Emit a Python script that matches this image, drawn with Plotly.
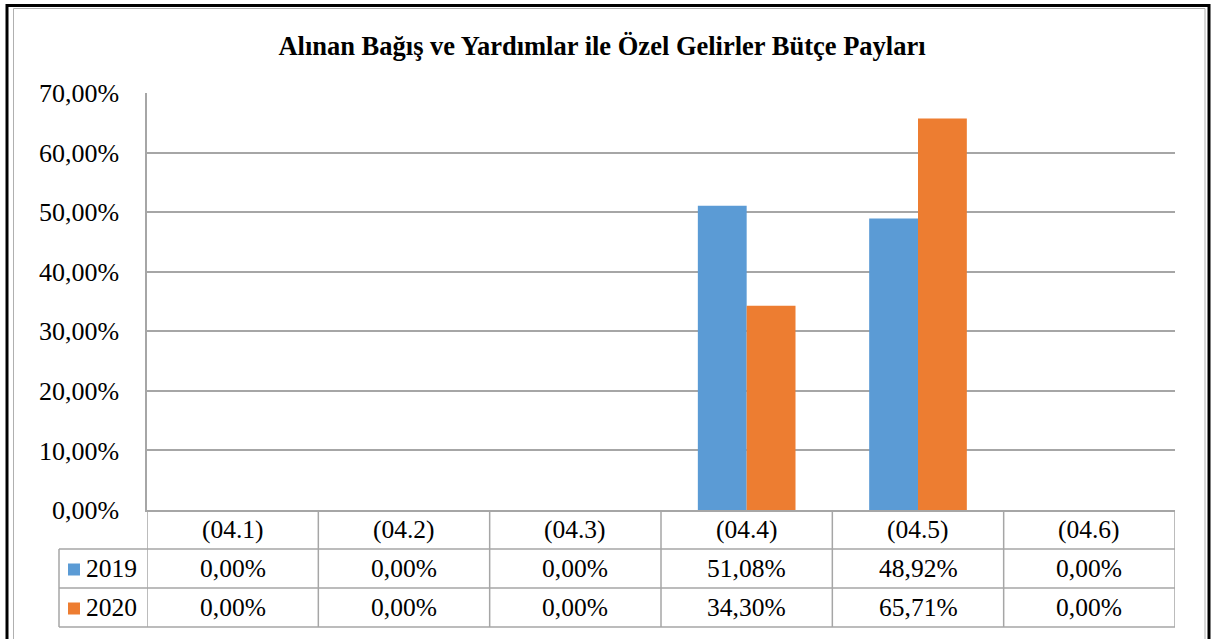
import plotly.graph_objects as go

# data
categories = ["(04.1)", "(04.2)", "(04.3)", "(04.4)", "(04.5)", "(04.6)"]
years = ["2019", "2020"]
share_2019 = [0.00, 0.00, 0.00, 51.08, 48.92, 0.00]
share_2020 = [0.00, 0.00, 0.00, 34.30, 65.71, 0.00]
colors = ["#5B9BD5", "#ED7D31"]
y_ticks = [0, 10, 20, 30, 40, 50, 60, 70]

W, H = 1211, 639
GRID = "#A6A6A6"
FONT = "Liberation Serif, Times New Roman, serif"


def px(y):
    # pixel row -> paper y
    return 1 - y / H


def pxx(x):
    return x / W


def pct(v):
    return f"{v:.2f}".replace(".", ",") + "%"


fig = go.Figure()
for name, vals, c in zip(years, [share_2019, share_2020], colors):
    fig.add_trace(go.Bar(x=categories, y=vals, name=name, marker_color=c,
                         marker_line_width=0, showlegend=False, hoverinfo="skip"))

plot_top, plot_bot = 93, 510
row_h = 39
shapes = []
annotations = []
txt = dict(family=FONT, size=25.5, color="black")

# data table below the plot
n = len(categories)
for i in range(n + 1):
    shapes.append(dict(type="line", xref="x", yref="paper", x0=i - 0.5, x1=i - 0.5,
                       y0=px(plot_bot), y1=px(plot_bot + 3 * row_h),
                       line=dict(color=GRID, width=1.5)))
for r in range(1, 4):
    yy = px(plot_bot + r * row_h)
    shapes.append(dict(type="line", xref="paper", yref="paper",
                       x0=pxx(59), x1=pxx(147), y0=yy, y1=yy,
                       line=dict(color=GRID, width=1.5)))
    shapes.append(dict(type="line", xref="x", yref="paper", x0=-0.5, x1=n - 0.5,
                       y0=yy, y1=yy, line=dict(color=GRID, width=1.5)))
shapes.append(dict(type="line", xref="paper", yref="paper", x0=pxx(59), x1=pxx(59),
                   y0=px(plot_bot + row_h), y1=px(plot_bot + 3 * row_h),
                   line=dict(color=GRID, width=1.5)))

for i, cat in enumerate(categories):
    annotations.append(dict(x=cat, xref="x", yref="paper", y=px(plot_bot + row_h / 2),
                            text=cat, showarrow=False, xanchor="center",
                            yanchor="middle", font=txt))
    for r, vals in enumerate([share_2019, share_2020]):
        annotations.append(dict(x=cat, xref="x", yref="paper",
                                y=px(plot_bot + row_h * (r + 1.5)),
                                text=pct(vals[i]), showarrow=False, xanchor="center",
                                yanchor="middle", font=txt))

for r, (yr, c) in enumerate(zip(years, colors)):
    yc = plot_bot + row_h * (r + 1.5)
    shapes.append(dict(type="rect", xref="paper", yref="paper", x0=pxx(68), x1=pxx(80),
                       y0=px(yc + 7), y1=px(yc - 5), fillcolor=c, line_width=0))
    annotations.append(dict(x=pxx(84), xref="paper", yref="paper", y=px(yc), text=yr,
                            xanchor="left", yanchor="middle", showarrow=False,
                            font=txt))

# outer frame
shapes.append(dict(type="rect", xref="paper", yref="paper", x0=pxx(7), x1=pxx(1209),
                   y0=px(660), y1=px(5.5), line=dict(color="black", width=3)))
shapes.append(dict(type="rect", xref="paper", yref="paper", x0=pxx(13.5), x1=pxx(1205),
                   y0=px(660), y1=px(8.5), line=dict(color="#B0B0B0", width=1)))

fig.update_layout(
    width=W, height=H,
    margin=dict(l=0, r=0, t=0, b=0),
    paper_bgcolor="white", plot_bgcolor="white",
    font=dict(family=FONT, size=25, color="black"),
    title=dict(text="<b>Alınan Bağış ve Yardımlar ile Özel Gelirler Bütçe Payları</b>",
               x=pxx(602), xanchor="center", y=px(46), yanchor="middle",
               font=dict(family=FONT, size=26.5, color="black")),
    barmode="group", bargap=0.43, bargroupgap=0,
    xaxis=dict(domain=[pxx(147), pxx(1175)], showticklabels=False, showgrid=False,
               showline=True, linecolor=GRID, linewidth=1.5, automargin=False,
               range=[-0.5, n - 0.5], fixedrange=True),
    yaxis=dict(domain=[px(plot_bot), px(plot_top)], range=[0, 70], tickvals=y_ticks,
               ticktext=[pct(v) for v in y_ticks],
               tickfont=dict(family=FONT, size=26, color="black"),
               showgrid=True, gridcolor=GRID, gridwidth=1.5, zeroline=False,
               showline=True, linecolor=GRID, linewidth=1.5, automargin=False,
               ticks="", ticklabelstandoff=21, fixedrange=True),
    shapes=shapes,
    annotations=annotations,
)

fig.write_html("out.html", post_script="document.body.style.margin='0';",
               config={"displayModeBar": False})
